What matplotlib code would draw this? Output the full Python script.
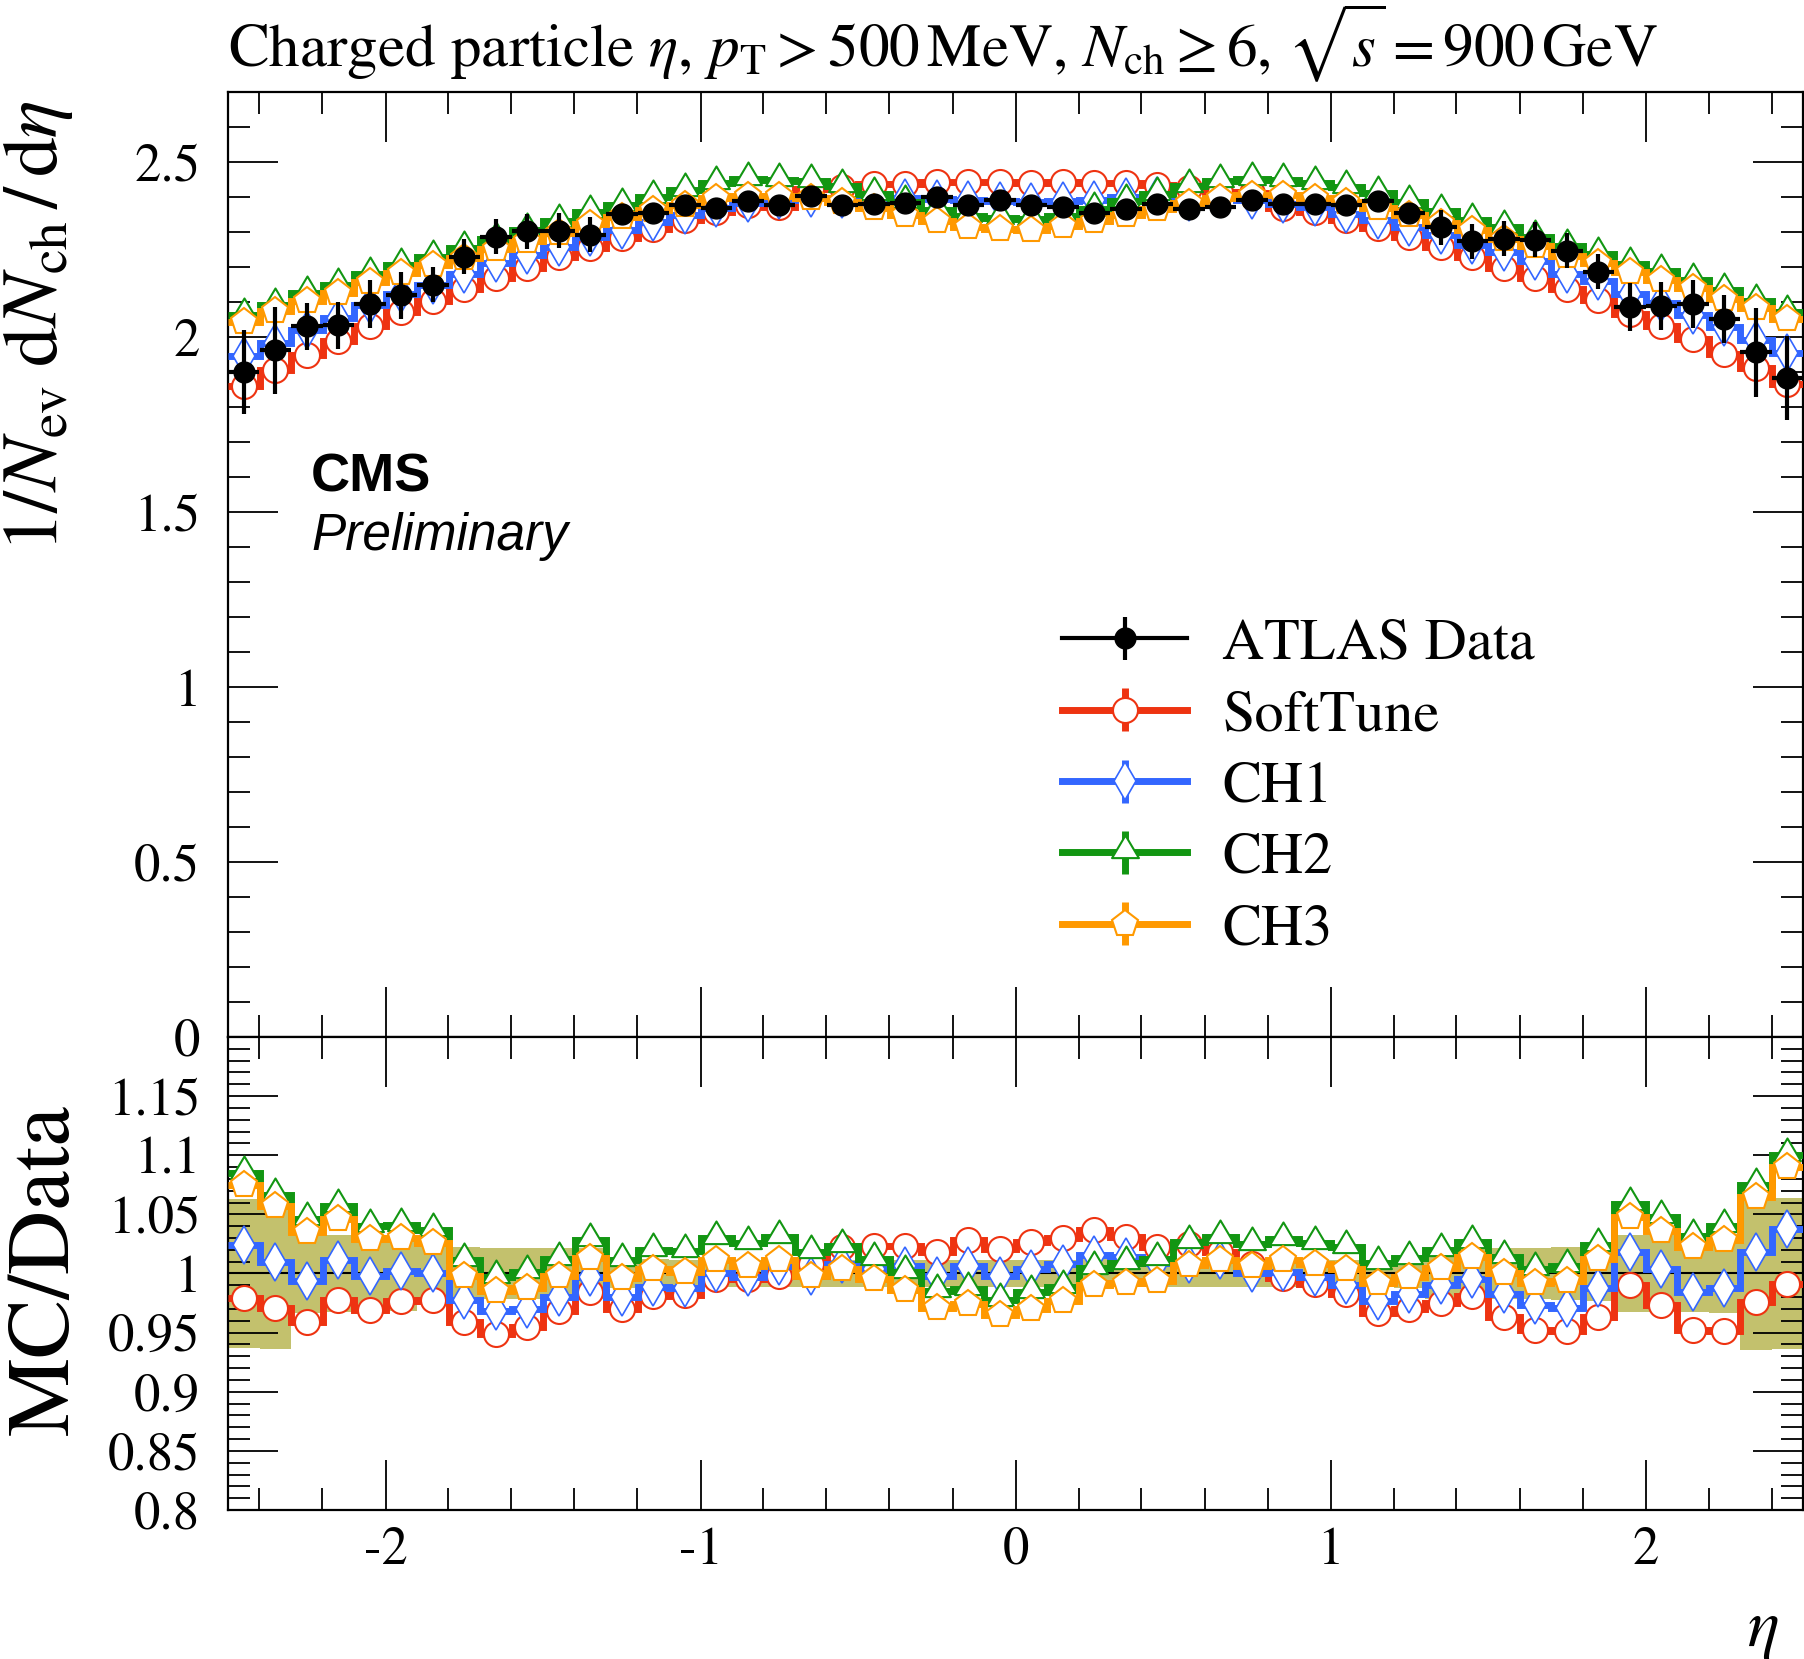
import numpy as np
import matplotlib
matplotlib.use('Agg')
import matplotlib.pyplot as plt
from matplotlib.path import Path
from matplotlib.container import ErrorbarContainer
from matplotlib.legend_handler import HandlerErrorbar
from matplotlib.ticker import MultipleLocator, FixedLocator, FixedFormatter

plt.rcParams['font.family'] = 'STIXGeneral'
plt.rcParams['mathtext.fontset'] = 'stix'

# 50 bins of width 0.1 in eta
eta_edges = np.round(np.linspace(-2.5, 2.5, 51), 2)
eta_centres = 0.5 * (eta_edges[:-1] + eta_edges[1:])

# ATLAS data, 1/Nev dNch/deta
data_vals = [1.900, 1.962, 2.031, 2.033, 2.095, 2.119, 2.150, 2.230, 2.286, 2.302,
             2.303, 2.292, 2.352, 2.354, 2.376, 2.370, 2.389, 2.376, 2.403, 2.376,
             2.381, 2.383, 2.400, 2.376, 2.392, 2.376, 2.371, 2.354, 2.367, 2.381,
             2.367, 2.371, 2.392, 2.379, 2.379, 2.376, 2.389, 2.355, 2.314, 2.273,
             2.281, 2.278, 2.246, 2.186, 2.086, 2.088, 2.095, 2.052, 1.957, 1.883]
data_err = [0.120, 0.125, 0.067, 0.067, 0.068, 0.068, 0.050, 0.050, 0.050, 0.050,
            0.050, 0.050, 0.028, 0.028, 0.028, 0.028, 0.028, 0.028, 0.028, 0.028,
            0.028, 0.028, 0.028, 0.028, 0.028, 0.028, 0.028, 0.028, 0.028, 0.028,
            0.028, 0.028, 0.028, 0.028, 0.028, 0.028, 0.028, 0.028, 0.050, 0.050,
            0.050, 0.050, 0.050, 0.050, 0.068, 0.068, 0.068, 0.068, 0.127, 0.120]

# MC / data ratios
softtune_ratio = [0.979, 0.971, 0.959, 0.978, 0.969, 0.977, 0.978, 0.959, 0.949, 0.955,
                  0.968, 0.984, 0.970, 0.981, 0.982, 0.995, 0.995, 0.998, 1.008, 1.022,
                  1.023, 1.023, 1.018, 1.028, 1.021, 1.027, 1.030, 1.037, 1.031, 1.022,
                  1.025, 1.018, 1.008, 0.996, 0.991, 0.983, 0.967, 0.970, 0.975, 0.981,
                  0.963, 0.952, 0.951, 0.963, 0.990, 0.973, 0.952, 0.951, 0.976, 0.991]
ch1_ratio = [1.024, 1.010, 0.994, 1.011, 0.998, 1.002, 1.000, 0.978, 0.968, 0.970,
             0.980, 0.997, 0.980, 0.989, 0.988, 1.000, 0.997, 1.006, 0.998, 1.008,
             1.004, 1.006, 0.998, 1.006, 0.998, 1.004, 1.008, 1.016, 1.014, 1.009,
             1.008, 1.011, 1.000, 1.001, 0.997, 0.990, 0.977, 0.983, 0.990, 0.995,
             0.983, 0.973, 0.971, 0.988, 1.018, 1.004, 0.984, 0.988, 1.018, 1.038]
ch2_ratio = [1.085, 1.066, 1.046, 1.057, 1.040, 1.041, 1.037, 1.011, 0.997, 1.001,
             1.012, 1.028, 1.011, 1.020, 1.019, 1.030, 1.026, 1.031, 1.018, 1.023,
             1.012, 1.001, 0.985, 0.987, 0.978, 0.984, 0.989, 1.005, 1.009, 1.012,
             1.027, 1.031, 1.025, 1.029, 1.026, 1.022, 1.009, 1.013, 1.020, 1.027,
             1.014, 1.004, 1.006, 1.024, 1.059, 1.048, 1.032, 1.040, 1.075, 1.100]
ch3_ratio = [1.075, 1.057, 1.035, 1.046, 1.029, 1.030, 1.026, 0.998, 0.985, 0.988,
             0.998, 1.013, 0.996, 1.004, 1.001, 1.011, 1.006, 1.011, 0.998, 1.004,
             0.995, 0.986, 0.971, 0.974, 0.965, 0.970, 0.977, 0.990, 0.992, 0.994,
             1.007, 1.011, 1.006, 1.011, 1.008, 1.004, 0.992, 0.997, 1.005, 1.014,
             1.000, 0.992, 0.994, 1.012, 1.048, 1.036, 1.022, 1.028, 1.065, 1.090]

mc_names = ['SoftTune', 'CH1', 'CH2', 'CH3']
mc_ratios = [softtune_ratio, ch1_ratio, ch2_ratio, ch3_ratio]
mc_colors = ['#ee3311', '#3366ff', '#129612', '#ff9900']

# markers: circle, thin diamond, triangle (apex above value), pentagon
tri = Path([(0, 1), (-0.79, -0.33), (0.79, -0.33), (0, 1)],
           [Path.MOVETO, Path.LINETO, Path.LINETO, Path.CLOSEPOLY])
mc_markers = ['o', 'd', tri, 'p']
mc_msize = [18, 19, 24.5, 20]
mc_mew = [1.5, 1.2, 1.5, 1.5]

band_color = '#c3c16d'
W = 1804.0
H = 1659.0

fig = plt.figure(figsize=(W / 100, H / 100), dpi=100)
ax = fig.add_axes([228 / W, 1 - 1037 / H, (1803 - 228) / W, (1037 - 92) / H])
rax = fig.add_axes([228 / W, 1 - 1510 / H, (1803 - 228) / W, (1510 - 1037) / H])

data = np.array(data_vals)
derr = np.array(data_err)

# main panel
for k in range(4):
    mc = np.array(mc_ratios[k]) * data
    ax.stairs(mc, eta_edges, baseline=None, color=mc_colors[k], lw=5, zorder=3 + 2 * k)
    ax.plot(eta_centres, mc, ls='none', marker=mc_markers[k], ms=mc_msize[k],
            mfc='white', mec=mc_colors[k], mew=mc_mew[k], zorder=4 + 2 * k)
ax.errorbar(eta_centres, data, yerr=derr, xerr=0.05, fmt='o', color='black',
            ms=15, elinewidth=3, capsize=0, zorder=20)

# ratio panel
rel = derr / data
rax.stairs(1 + rel, eta_edges, baseline=1 - rel, fill=True, color=band_color, lw=0, zorder=1)
rax.stairs(np.ones(50), eta_edges, baseline=None, color='black', lw=1.5, zorder=2)
for k in range(4):
    r = np.array(mc_ratios[k])
    rax.stairs(r, eta_edges, baseline=None, color=mc_colors[k], lw=5, zorder=3 + 2 * k)
    rax.plot(eta_centres, r, ls='none', marker=mc_markers[k], ms=mc_msize[k],
             mfc='white', mec=mc_colors[k], mew=mc_mew[k], zorder=4 + 2 * k)

# axes styling
for a in (ax, rax):
    a.set_xlim(-2.5, 2.5)
    a.xaxis.set_major_locator(MultipleLocator(1))
    a.xaxis.set_minor_locator(MultipleLocator(0.2))
    a.tick_params(which='both', direction='in', top=True, right=True, width=1.3,
                  labelsize=38)
    a.tick_params(which='major', length=36)
    a.tick_params(which='minor', length=16)
    for s in a.spines.values():
        s.set_linewidth(1.6)

ax.set_ylim(0, 2.7)
ax.yaxis.set_major_locator(FixedLocator([0, 0.5, 1, 1.5, 2, 2.5]))
ax.yaxis.set_major_formatter(FixedFormatter(['0', '0.5', '1', '1.5', '2', '2.5']))
ax.yaxis.set_minor_locator(MultipleLocator(0.1))
ax.tick_params(axis='x', labelbottom=False)
ax.tick_params(axis='y', pad=20)

rax.set_ylim(0.8, 1.2)
rax.yaxis.set_major_locator(FixedLocator([0.8, 0.85, 0.9, 0.95, 1.0, 1.05, 1.1, 1.15]))
rax.yaxis.set_major_formatter(FixedFormatter(['0.8', '0.85', '0.9', '0.95', '1', '1.05', '1.1', '1.15']))
rax.yaxis.set_minor_locator(MultipleLocator(0.01))
rax.xaxis.set_major_locator(FixedLocator([-2, -1, 0, 1, 2]))
rax.xaxis.set_major_formatter(FixedFormatter(['-2', '-1', '0', '1', '2']))
rax.tick_params(axis='y', pad=20)
rax.tick_params(axis='x', pad=12)

# legend
handles = []
h = ax.errorbar([np.nan], [np.nan], yerr=[1], fmt='-o', color='black', lw=3,
                ms=15, elinewidth=3, capsize=0)
handles.append(h)
for k in range(4):
    h = ax.errorbar([np.nan], [np.nan], yerr=[1], fmt='-', marker=mc_markers[k],
                    color=mc_colors[k], lw=5, ms=mc_msize[k], mfc='white',
                    mec=mc_colors[k], mew=mc_mew[k], elinewidth=5, capsize=0)
    handles.append(h)
labels = ['ATLAS Data', 'SoftTune', 'CH1', 'CH2', 'CH3']
ax.legend(handles, labels, loc='upper left', bbox_to_anchor=(1062 / W, 1 - 618 / H),
          bbox_transform=fig.transFigure, frameon=False, fontsize=42,
          handlelength=2.15, handletextpad=0.6, labelspacing=0.30, borderpad=0,
          borderaxespad=0, handler_map={ErrorbarContainer: HandlerErrorbar(yerr_size=0.37)})

# texts
title = fig.text(228 / W, 1 - 57 / H,
                 r'Charged particle $\eta$, $p_\mathrm{T} > 500\,\mathrm{MeV}$, '
                 r'$N_\mathrm{ch} \geq 6$, $\sqrt{s} = 900\,\mathrm{GeV}$',
                 ha='left', va='baseline', fontsize=44)
fig.text(311 / W, 1 - 491 / H, 'CMS', family='Liberation Sans', weight='bold',
         fontsize=39, ha='left', va='baseline')
fig.text(311 / W, 1 - 550 / H, 'Preliminary', family='Liberation Sans', style='italic',
         fontsize=37, ha='left', va='baseline')
fig.text(38 / W, 1 - 100 / H, r'$1/N_\mathrm{ev}\;\mathrm{d}N_\mathrm{ch}\,/\,\mathrm{d}\eta$',
         rotation=90, ha='center', va='top', fontsize=57)
fig.text(47 / W, 1 - 1104 / H, 'MC/Data', rotation=90, ha='center', va='top', fontsize=64)
fig.text(1778 / W, 1 - 1632 / H, r'$\eta$', ha='right', va='center', fontsize=48)

# keep the title box inside the figure
renderer = fig.canvas.get_renderer()
bb = title.get_window_extent(renderer)
if bb.y1 > H - 2:
    x0, y0 = title.get_position()
    title.set_position((x0, y0 - (bb.y1 - H + 2) / H))

fig.savefig('out.png', dpi=100)
